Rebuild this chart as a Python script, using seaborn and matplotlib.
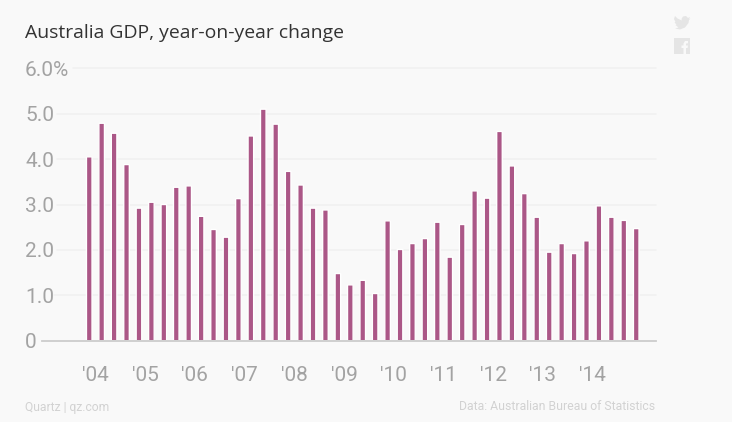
import matplotlib
matplotlib.use('Agg')
import matplotlib.pyplot as plt
import matplotlib.patches as patches
from matplotlib.path import Path
import pandas as pd
import seaborn as sns

#Data
years = ['04', '05', '06', '07', '08', '09', '10', '11', '12', '13', '14']
gdp_change = [4.05, 4.79, 4.57, 3.88, 2.92, 3.05, 3.00, 3.38, 3.41,
              2.74, 2.45, 2.28, 3.13, 4.51, 5.10, 4.77, 3.73, 3.43,
              2.92, 2.88, 1.48, 1.23, 1.33, 1.04, 2.64, 2.01, 2.14,
              2.25, 2.61, 1.84, 2.56, 3.30, 3.14, 4.61, 3.85, 3.24,
              2.72, 1.95, 2.14, 1.92, 2.20, 2.97, 2.72, 2.65, 2.47]
y_ticks = [0, 1, 2, 3, 4, 5, 6]
y_labels = ['0', '1.0', '2.0', '3.0', '4.0', '5.0', '6.0%']
year_labels = ["\u2032" + y for y in years]

#Colours
BG = '#F9F9F9'
BAR = '#AB5787'
GRID = '#F1F1F1'
LABEL = '#A3A3A3'
FOOT = '#D2D2D2'
ICON = '#E5E5E5'

W, H = 732, 422
LEFT, RIGHT, BASE, TOP = 42, 655.5, 340.7, 68.3

df = pd.DataFrame({'quarter': range(len(gdp_change)), 'gdp': gdp_change})

sns.set_style('white')
plt.rcParams['font.family'] = ['Roboto', 'DejaVu Sans']

fig = plt.figure(figsize=(W / 100, H / 100), dpi=100, facecolor=BG)
ax = fig.add_axes([LEFT / W, 1 - BASE / H, (RIGHT - LEFT) / W, (BASE - TOP) / H])
ax.set_facecolor('none')

#Gridlines start just after each label
grid_start = {1: 54, 2: 57, 3: 57, 4: 57, 5: 57, 6: 73}
for val, px in grid_start.items():
    ax.axhline(val, xmin=(px - LEFT) / (RIGHT - LEFT), xmax=1, color=GRID, lw=1.1,
               zorder=0, clip_on=False)

sns.barplot(data=df, x='quarter', y='gdp', color=BAR, saturation=1, width=0.45, ax=ax, zorder=2)

#Pixel snapping makes the bars too thin
for bar in ax.patches:
    bar.set_snap(False)

ax.set_xlim(-3.8, 45.55)
ax.set_ylim(0, 6)
ax.set_xlabel('')
ax.set_ylabel('')

for s in ['top', 'left', 'right']:
    ax.spines[s].set_visible(False)
ax.spines['bottom'].set_color('#CCCCCC')
ax.spines['bottom'].set_linewidth(1.3)
ax.spines['bottom'].set_zorder(3)

#Year ticks sit between Q4 and Q1 bars
ax.set_xticks([0.5 + 4 * i for i in range(len(year_labels))])
ax.set_xticklabels(year_labels, fontsize=15, color=LABEL)
ax.tick_params(axis='x', length=13, width=0.8, color='#E4E4E4', pad=5.2)

ax.set_yticks(y_ticks)
ax.set_yticklabels(y_labels, fontsize=15, color=LABEL, ha='left')
ax.tick_params(axis='y', length=0, pad=12.2)

#Title and footer
fig.text(25 / W, 1 - 33.5 / H, 'Australia GDP, year-on-year change', fontsize=13.95,
         color='#333333', va='center', ha='left', family=['Open Sans', 'DejaVu Sans'])
fig.text(25 / W, 1 - 407 / H, 'Quartz | qz.com', fontsize=8.7, color=FOOT, va='center', ha='left')
fig.text(655 / W, 1 - 407 / H, 'Data: Australian Bureau of Statistics', fontsize=8.8, color=FOOT,
         va='center', ha='right')

#Social icons in pixel coordinates
overlay = fig.add_axes([0, 0, 1, 1], facecolor='none')
overlay.set_xlim(0, W)
overlay.set_ylim(H, 0)
overlay.axis('off')

bird = [(690, 17), (688, 18), (686, 16), (683, 16.5), (681.5, 19), (681.8, 20.5), (677.5, 18.5), (675, 16),
        (674, 19), (675.5, 22), (674.5, 22), (676.5, 25), (675.5, 25), (678.5, 27.5), (675, 28.5),
        (680, 29.5), (685, 27.5), (688.5, 23), (689, 20), (690.5, 18.5), (689, 19), (690, 17)]
overlay.add_patch(patches.PathPatch(Path(bird), fc=ICON, ec='none'))
overlay.add_patch(patches.Rectangle((674, 38), 16, 16, fc=ICON, ec='none'))
f_shape = [(683.5, 54), (683.5, 48), (681.5, 48), (681.5, 45.5), (683.5, 45.5), (683.5, 43.5),
           (685, 41), (688, 41), (688, 43.3), (686.5, 43.3), (686, 44), (686, 45.5), (688, 45.5),
           (687.6, 48), (686, 48), (686, 54), (683.5, 54)]
overlay.add_patch(patches.PathPatch(Path(f_shape), fc=BG, ec='none'))

fig.savefig('out.png', dpi=100, facecolor=BG)
